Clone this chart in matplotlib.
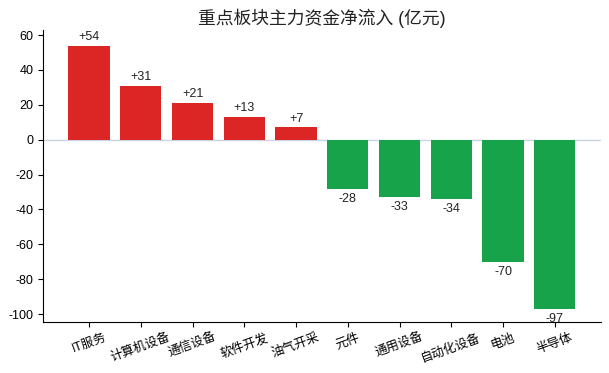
import matplotlib
matplotlib.use("Agg")
import matplotlib.pyplot as plt

plt.rcParams['font.family'] = ['Liberation Sans', 'Noto Sans CJK SC', 'DejaVu Sans']
plt.rcParams['axes.unicode_minus'] = False

sectors = ["IT服务", "计算机设备", "通信设备", "软件开发", "油气开采",
           "元件", "通用设备", "自动化设备", "电池", "半导体"]
flows = [54, 31, 21, 13, 7, -28, -33, -34, -70, -97]

red = "#dc2626"
green = "#16a34a"
colors = [red if v > 0 else green for v in flows]

fig = plt.figure(figsize=(6.09, 3.73), dpi=100)
ax = fig.add_axes([0.0706, 0.137, 0.916, 0.783])

x = range(len(sectors))
bars = ax.bar(x, flows, width=0.8, color=colors)
ax.axhline(0, color="#cbd5e1", linewidth=1, zorder=0)

for b, v in zip(bars, flows):
    if v > 0:
        ax.annotate(f"+{v}", (b.get_x() + b.get_width() / 2, v),
                    xytext=(0, 2), textcoords="offset points",
                    ha="center", va="bottom", fontsize=9, color="#222222")
    else:
        ax.annotate(f"{v}", (b.get_x() + b.get_width() / 2, v),
                    xytext=(0, -3), textcoords="offset points",
                    ha="center", va="top", fontsize=9, color="#222222")

ax.set_xticks(list(x))
ax.set_xticklabels(sectors, rotation=20, fontsize=9)
ax.set_yticks(range(-100, 61, 20))
ax.tick_params(axis="y", labelsize=9)
ax.set_ylim(-104.5, 63)
ax.spines["top"].set_visible(False)
ax.spines["right"].set_visible(False)
ax.set_title("重点板块主力资金净流入 (亿元)", fontsize=12.8, color="#222222", pad=4.5)

fig.savefig("out.png", dpi=100)
